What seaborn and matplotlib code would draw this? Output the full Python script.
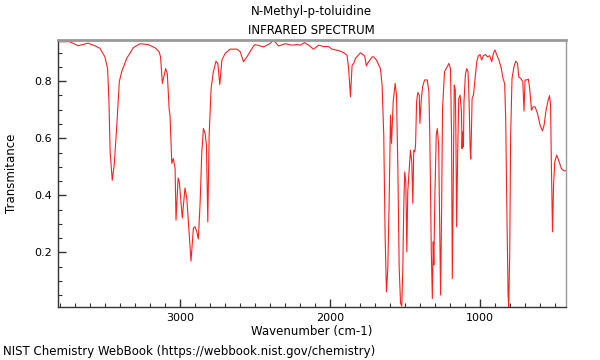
import matplotlib
matplotlib.use("Agg")
import matplotlib.pyplot as plt
import seaborn as sns
import pandas as pd
from matplotlib.ticker import MultipleLocator, FixedLocator

title_name = "N-Methyl-p-toluidine"
title_kind = "INFRARED SPECTRUM"
x_label = "Wavenumber (cm-1)"
y_label = "Transmitance"
footer = "NIST Chemistry WebBook (https://webbook.nist.gov/chemistry)"

wavenumber = [
    3815, 3733, 3677, 3611, 3566, 3532, 3499, 3481, 3472, 3464, 3450, 3437, 3421, 3403, 3387,
    3354, 3310, 3265, 3210, 3165, 3138, 3128, 3116, 3094, 3083, 3071, 3065, 3053, 3043, 3031,
    3025, 3011, 3003, 2983, 2965, 2953, 2938, 2925, 2909, 2898, 2886, 2876, 2864, 2853, 2842,
    2831, 2822, 2813, 2804, 2791, 2776, 2758, 2746, 2733, 2719, 2697, 2664, 2619, 2597, 2575,
    2552, 2508, 2497, 2441, 2397, 2375, 2341, 2297, 2252, 2218, 2196, 2168, 2141, 2108, 2074,
    2041, 2008, 1985, 1941, 1908, 1885, 1874, 1862, 1851, 1840, 1829, 1796, 1767, 1756, 1745,
    1717, 1707, 1689, 1673, 1662, 1651, 1640, 1631, 1622, 1613, 1604, 1595, 1588, 1577, 1564,
    1555, 1546, 1537, 1528, 1520, 1513, 1506, 1500, 1493, 1486, 1480, 1470, 1462, 1453, 1446,
    1440, 1433, 1428, 1421, 1413, 1403, 1399, 1390, 1381, 1368, 1350, 1339, 1333, 1323, 1316,
    1310, 1306, 1299, 1290, 1283, 1274, 1266, 1261, 1255, 1248, 1235, 1217, 1206, 1195, 1188,
    1183, 1176, 1170, 1163, 1159, 1154, 1147, 1140, 1131, 1122, 1118, 1114, 1109, 1105, 1096,
    1087, 1078, 1071, 1064, 1060, 1055, 1051, 1042, 1031, 1020, 1009, 998, 987, 976, 961,
    949, 934, 920, 909, 898, 886, 872, 856, 845, 834, 827, 820, 811, 807, 800,
    794, 785, 772, 760, 748, 740, 726, 713, 705, 698, 687, 676, 667, 655, 644,
    631, 615, 598, 582, 571, 558, 544, 535, 528, 522, 515, 508, 500, 487, 474,
    456, 438, 425,
]
transmittance = [
    0.938, 0.938, 0.924, 0.933, 0.924, 0.915, 0.885, 0.844, 0.728, 0.552, 0.453, 0.506, 0.634, 0.798, 0.833,
    0.879, 0.917, 0.931, 0.928, 0.917, 0.903, 0.885, 0.792, 0.844, 0.827, 0.704, 0.681, 0.512, 0.529, 0.494,
    0.313, 0.461, 0.447, 0.321, 0.426, 0.389, 0.272, 0.170, 0.286, 0.290, 0.272, 0.247, 0.377, 0.552, 0.634,
    0.617, 0.576, 0.307, 0.611, 0.774, 0.833, 0.870, 0.862, 0.788, 0.874, 0.897, 0.912, 0.912, 0.903, 0.868,
    0.885, 0.923, 0.928, 0.920, 0.932, 0.944, 0.923, 0.931, 0.926, 0.928, 0.926, 0.935, 0.926, 0.912, 0.926,
    0.921, 0.921, 0.912, 0.907, 0.900, 0.891, 0.844, 0.745, 0.856, 0.862, 0.879, 0.899, 0.889, 0.853, 0.865,
    0.885, 0.885, 0.874, 0.856, 0.844, 0.786, 0.611, 0.261, 0.062, 0.144, 0.377, 0.681, 0.582, 0.728, 0.792,
    0.751, 0.494, 0.144, 0.022, 0.012, 0.144, 0.377, 0.482, 0.447, 0.202, 0.412, 0.494, 0.558, 0.517, 0.372,
    0.558, 0.552, 0.576, 0.728, 0.760, 0.751, 0.652, 0.733, 0.780, 0.804, 0.804, 0.763, 0.611, 0.202, 0.039,
    0.237, 0.156, 0.401, 0.611, 0.634, 0.576, 0.261, 0.051, 0.319, 0.704, 0.833, 0.850, 0.862, 0.844, 0.611,
    0.109, 0.494, 0.786, 0.769, 0.611, 0.290, 0.552, 0.739, 0.751, 0.693, 0.564, 0.622, 0.570, 0.728, 0.821,
    0.844, 0.833, 0.728, 0.564, 0.527, 0.634, 0.739, 0.751, 0.809, 0.868, 0.889, 0.893, 0.874, 0.889, 0.893,
    0.885, 0.889, 0.868, 0.897, 0.909, 0.891, 0.874, 0.844, 0.809, 0.792, 0.669, 0.377, 0.051, 0.009, 0.202,
    0.611, 0.809, 0.850, 0.870, 0.862, 0.815, 0.809, 0.798, 0.695, 0.804, 0.804, 0.807, 0.774, 0.698, 0.710,
    0.710, 0.687, 0.646, 0.626, 0.646, 0.698, 0.733, 0.749, 0.716, 0.494, 0.272, 0.436, 0.517, 0.541, 0.523,
    0.494, 0.486, 0.486,
]

x_major = [3000, 2000, 1000]
y_major = [0.2, 0.4, 0.6, 0.8]

sns.set_style("ticks")
plt.rcParams["font.family"] = ["DejaVu Sans"]
plt.rcParams["text.color"] = "black"
plt.rcParams["axes.labelcolor"] = "black"
plt.rcParams["xtick.labelcolor"] = "black"
plt.rcParams["ytick.labelcolor"] = "black"

df = pd.DataFrame({"wn": wavenumber, "T": transmittance})

fig = plt.figure(figsize=(6, 3.6), dpi=100)
ax = fig.add_axes([57.5 / 600, 1 - 307 / 360, (566 - 57.5) / 600, (307 - 40) / 360])

sns.lineplot(data=df, x="wn", y="T", sort=False, ax=ax, color="#ff2020", linewidth=0.8,
             estimator=None)

ax.set_xlim(3815, 425)
ax.set_ylim(0.009, 0.944)
ax.xaxis.set_major_locator(FixedLocator(x_major))
ax.xaxis.set_minor_locator(MultipleLocator(100))
ax.yaxis.set_major_locator(FixedLocator(y_major))
ax.yaxis.set_minor_locator(MultipleLocator(0.05))
ax.set_xticklabels([str(v) for v in x_major])
ax.set_yticklabels([f"{v:.1f}" for v in y_major])

ax.tick_params(axis="both", which="major", direction="in", length=6, width=1,
               color="#333333", labelsize=8, pad=4, labelcolor="black")
ax.tick_params(axis="both", which="minor", direction="in", length=3, width=0.8, color="#333333")
ax.tick_params(top=False, right=False, which="both")

for side in ["left", "bottom"]:
    ax.spines[side].set_color("#333333")
    ax.spines[side].set_linewidth(1.0)
for side in ["top", "right"]:
    ax.spines[side].set_visible(True)
    ax.spines[side].set_color("#999999")
    ax.spines[side].set_linewidth(1.0)
ax.spines["top"].set_linewidth(2.0)

ax.set_xlabel(x_label, fontsize=8.5, labelpad=2, color="black")
ax.set_ylabel(y_label, fontsize=8.5, labelpad=12, color="black")

fig.text(311.5 / 600, 1 - 12 / 360, title_name, ha="center", va="center", fontsize=8.5, color="black")
fig.text(311.5 / 600, 1 - 30 / 360, title_kind, ha="center", va="center", fontsize=8.5, color="black")
fig.text(3 / 600, 1 - 352 / 360, footer, ha="left", va="center", fontsize=8.5, color="black")

fig.savefig("out.png", dpi=100)
